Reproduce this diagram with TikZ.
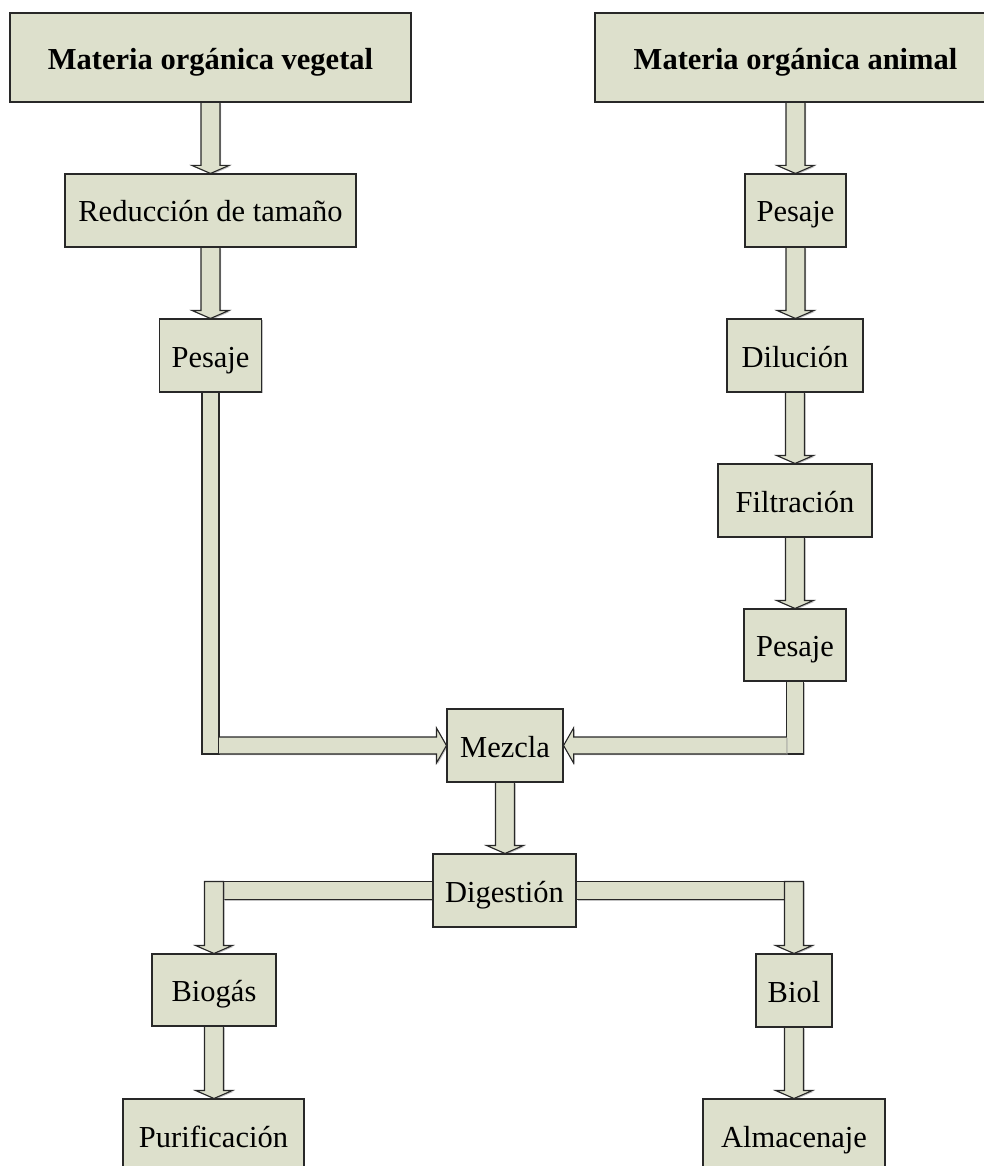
\documentclass[tikz,border=0pt]{standalone}
\usepackage{fontspec}
\setmainfont{Liberation Serif}
\usetikzlibrary{calc,shadows,backgrounds}
\definecolor{boxfill}{RGB}{221,224,204}
\definecolor{edge}{RGB}{40,40,40}
\tikzset{
  base/.style={fill=boxfill, draw=edge, line width=1.1pt,
    drop shadow={shadow xshift=1.2pt, shadow yshift=-1.2pt, fill=black!35, opacity=0.7}},
  box/.style={base, rectangle, inner sep=0pt, text height=30pt, text depth=7pt,
    font=\fontsize{30.5}{36}\selectfont},
  title/.style={box, text height=31pt, text depth=6pt, font=\fontsize{30.5}{36}\selectfont\bfseries},
  blk/.style={base, line join=miter},
}
% vertical block arrow from the bottom of #1 to the top of #2
\newcommand\downblock[2]{%
  \draw[blk] let \p1=(#1.south), \p2=(#2.north) in
    (\x1-9.5pt,\y1) -- (\x1-9.5pt,\y2+8pt) -- (\x1-18.5pt,\y2+8pt) -- (\x1,\y2)
    -- (\x1+18.5pt,\y2+8pt) -- (\x1+9.5pt,\y2+8pt) -- (\x1+9.5pt,\y1);}
\begin{document}
\begin{tikzpicture}[x=1pt,y=-1pt]
\useasboundingbox (0,0) rectangle (984,1166);
\clip (0,0) rectangle (984,1166);

% process steps
\node[title, minimum width=401pt, minimum height=89pt] (veg) at (210.5,57.5) {Materia orgánica vegetal};
\node[title, minimum width=401pt, minimum height=89pt] (ani) at (795.5,57.5) {Materia orgánica animal};
\node[box, minimum width=291pt, minimum height=73pt] (red) at (210.5,210.5) {Reducción de tamaño};
\node[box, minimum width=102pt, minimum height=73pt] (pesV) at (210.5,355.5) {Pesaje};
\node[box, minimum width=101pt, minimum height=73pt] (pesA) at (795.5,210.5) {Pesaje};
\node[box, minimum width=136pt, minimum height=73pt] (dil) at (795,355.5) {Dilución};
\node[box, minimum width=154pt, minimum height=73pt] (fil) at (795,500.5) {Filtración};
\node[box, minimum width=102pt, minimum height=72pt] (pesB) at (795,645) {Pesaje};
\node[box, minimum width=116pt, minimum height=73pt] (mez) at (505,745.5) {Mezcla};
\node[box, minimum width=143pt, minimum height=73pt] (dig) at (504.5,890.5) {Digestión};
\node[box, minimum width=124pt, minimum height=72pt] (bio) at (214,990) {Biogás};
\node[box, minimum width=76pt, minimum height=73pt] (biol) at (794,990.5) {Biol};
\node[box, minimum width=181pt, minimum height=73pt] (pur) at (213.5,1135.5) {Purificación};
\node[box, minimum width=182pt, minimum height=73pt] (alm) at (794,1135.5) {Almacenaje};

\begin{pgfonlayer}{background}
% straight block arrows
\downblock{veg}{red}
\downblock{red}{pesV}
\downblock{ani}{pesA}
\downblock{pesA}{dil}
\downblock{dil}{fil}
\downblock{fil}{pesB}
\downblock{mez}{dig}
\downblock{bio}{pur}
\downblock{biol}{alm}

% vegetable branch into the mixer
\draw[blk] let \p1=(pesV.south), \p2=(mez.west) in
  (\x1-8.5pt,\y1) rectangle (\x1+8.5pt,\y2-8.5pt);
\draw[blk] let \p1=(pesV.south), \p2=(mez.west) in
  (\x1+8.5pt,\y2+8.5pt) -- (\x2-10pt,\y2+8.5pt) -- (\x2-10pt,\y2+17.5pt) -- (\x2,\y2)
  -- (\x2-10pt,\y2-17.5pt) -- (\x2-10pt,\y2-8.5pt) -- (\x1+8.5pt,\y2-8.5pt);

% animal branch into the mixer
\draw[blk] let \p1=(pesB.south), \p2=(mez.east) in
  (\x1-8.5pt,\y1) rectangle (\x1+8.5pt,\y2-8.5pt);
\draw[blk] let \p1=(pesB.south), \p2=(mez.east) in
  (\x1-8.5pt,\y2+8.5pt) -- (\x2+10pt,\y2+8.5pt) -- (\x2+10pt,\y2+17.5pt) -- (\x2,\y2)
  -- (\x2+10pt,\y2-17.5pt) -- (\x2+10pt,\y2-8.5pt) -- (\x1-8.5pt,\y2-8.5pt);

% digestion outputs
\draw[blk] let \p1=(dig.west), \p2=(bio.north) in
  (\x1,\y1+9pt) -- (\x2+9.5pt,\y1+9pt) -- (\x2+9.5pt,\y1-9pt) -- (\x1,\y1-9pt);
\draw[blk] let \p1=(dig.west), \p2=(bio.north) in
  (\x2-9.5pt,\y1+9pt) -- (\x2-9.5pt,\y2+8pt) -- (\x2-18.5pt,\y2+8pt) -- (\x2,\y2)
  -- (\x2+18.5pt,\y2+8pt) -- (\x2+9.5pt,\y2+8pt) -- (\x2+9.5pt,\y1+9pt) -- cycle;
\draw[blk] let \p1=(dig.east), \p2=(biol.north) in
  (\x1,\y1+9pt) -- (\x2-9.5pt,\y1+9pt) -- (\x2-9.5pt,\y1-9pt) -- (\x1,\y1-9pt);
\draw[blk] let \p1=(dig.east), \p2=(biol.north) in
  (\x2-9.5pt,\y1+9pt) -- (\x2-9.5pt,\y2+8pt) -- (\x2-18.5pt,\y2+8pt) -- (\x2,\y2)
  -- (\x2+18.5pt,\y2+8pt) -- (\x2+9.5pt,\y2+8pt) -- (\x2+9.5pt,\y1+9pt) -- cycle;
\end{pgfonlayer}
\end{tikzpicture}
\end{document}
